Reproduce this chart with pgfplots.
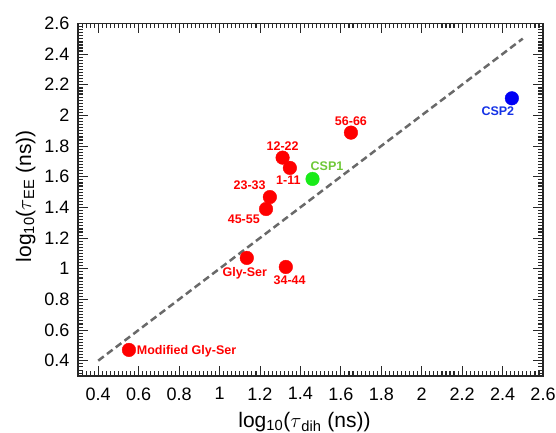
\documentclass[border=0pt]{standalone}
\usepackage{pgfplots}
\pgfplotsset{compat=1.18}
\usepackage{fontspec}
\setmainfont{Liberation Sans}
\definecolor{ptred}{RGB}{255,0,0}
\definecolor{ptgreen}{RGB}{25,235,25}
\definecolor{lblgreen}{RGB}{110,200,55}
\definecolor{ptblue}{RGB}{0,0,245}
\definecolor{lblblue}{RGB}{20,50,230}
\definecolor{dashgray}{RGB}{105,105,105}
\definecolor{tickgray}{RGB}{40,40,40}
\begin{document}
\begin{tikzpicture}[lbl/.style={font=\bfseries\fontsize{12.5}{14}\selectfont, inner sep=0pt, anchor=base}]
\begin{axis}[
  scale only axis, width=465pt, height=352.7pt,
  xmin=0.3, xmax=2.6, ymin=0.3, ymax=2.6,
  xtick={0.4,0.6,0.8,1,1.2,1.4,1.6,1.8,2,2.2,2.4,2.6},
  ytick={0.4,0.6,0.8,1,1.2,1.4,1.6,1.8,2,2.2,2.4,2.6},
  xticklabels={0.4,0.6,0.8,1,1.2,1.4,1.6,1.8,2,2.2,2.4,2.6},
  yticklabels={0.4,0.6,0.8,1,1.2,1.4,1.6,1.8,2,2.2,2.4,2.6},
  minor x tick num=9, minor y tick num=9,
  tick align=inside,
  tickwidth=10pt, subtickwidth=5pt,
  axis line style={line width=1.3pt, draw=tickgray},
  tick style={draw=tickgray, line width=0.8pt},
  tick label style={font=\fontsize{18}{20}\selectfont},
  xticklabel style={yshift=-8pt},
  yticklabel style={xshift=-5pt},
  xlabel={log\textsubscript{10}($\tau$\textsubscript{dih} (ns))},
  ylabel={log\textsubscript{10}($\tau$\textsubscript{EE} (ns))},
  label style={font=\fontsize{21}{23}\selectfont},
  xlabel style={at={(axis description cs:0.487,-0.147)}, anchor=base},
  ylabel style={at={(axis description cs:-0.101,0.51)}, anchor=base},
  clip=false,
]
% tick marks (minor every 0.02, major every 0.2)
\pgfplotsinvokeforeach{0.32,0.34,...,2.59}{
  \draw[tickgray, line width=0.7pt] (axis cs:#1,0.3) -- ++(0pt,5pt);
  \draw[tickgray, line width=0.7pt] (axis cs:#1,2.6) -- ++(0pt,-5pt);
  \draw[tickgray, line width=0.7pt] (axis cs:0.3,#1) -- ++(5pt,0pt);
  \draw[tickgray, line width=0.7pt] (axis cs:2.6,#1) -- ++(-5pt,0pt);
}
\pgfplotsinvokeforeach{0.4,0.6,0.8,1,1.2,1.4,1.6,1.8,2,2.2,2.4}{
  \draw[tickgray, line width=0.8pt] (axis cs:#1,0.3) -- ++(0pt,10pt);
  \draw[tickgray, line width=0.8pt] (axis cs:#1,2.6) -- ++(0pt,-10pt);
  \draw[tickgray, line width=0.8pt] (axis cs:0.3,#1) -- ++(10pt,0pt);
  \draw[tickgray, line width=0.8pt] (axis cs:2.6,#1) -- ++(-10pt,0pt);
}
% y = x reference line
\addplot[dashgray, line width=2.5pt, dash pattern=on 7pt off 4pt] coordinates {(0.4,0.4) (2.5,2.5)};
% red constructs
\addplot[only marks, mark=*, mark size=6.8pt, ptred, mark options={draw=ptred, fill=ptred}] coordinates {
(0.552,0.47) (1.135,1.07) (1.328,1.011) (1.23,1.389) (1.249,1.467) (1.312,1.724) (1.348,1.657) (1.65,1.887)};
% CSP1
\addplot[only marks, mark=*, mark size=6.8pt, ptgreen, mark options={draw=ptgreen, fill=ptgreen}] coordinates {(1.46,1.585)};
% CSP2
\addplot[only marks, mark=*, mark size=6.8pt, ptblue, mark options={draw=ptblue, fill=ptblue}] coordinates {(2.446,2.111)};
% labels
\node[lbl, anchor=base west, ptred] at ([xshift=7.7pt, yshift=-4.3pt]axis cs:0.552,0.47) {Modified Gly-Ser};
\node[lbl, ptred] at ([xshift=-2pt, yshift=-18.7pt]axis cs:1.135,1.07) {Gly-Ser};
\node[lbl, ptred] at ([xshift=3.8pt, yshift=-17.3pt]axis cs:1.328,1.011) {34-44};
\node[lbl, ptred] at ([xshift=-22.2pt, yshift=-14pt]axis cs:1.23,1.389) {45-55};
\node[lbl, ptred] at ([xshift=-20.2pt, yshift=7.2pt]axis cs:1.249,1.467) {23-33};
\node[lbl, ptred] at ([xshift=0pt, yshift=7.3pt]axis cs:1.312,1.724) {12-22};
\node[lbl, ptred] at ([xshift=-1.5pt, yshift=-16.2pt]axis cs:1.348,1.657) {1-11};
\node[lbl, ptred] at ([xshift=0pt, yshift=7.2pt]axis cs:1.65,1.887) {56-66};
\node[lbl, lblgreen] at ([xshift=14.5pt, yshift=8.5pt]axis cs:1.46,1.585) {CSP1};
\node[lbl, lblblue] at ([xshift=-14pt, yshift=-17.7pt]axis cs:2.446,2.111) {CSP2};
\end{axis}
\pgfresetboundingbox
\path ([shift={(-78pt,-57pt)}]current axis.south west) rectangle ([shift={(13pt,23.3pt)}]current axis.north east);
\end{tikzpicture}
\end{document}
